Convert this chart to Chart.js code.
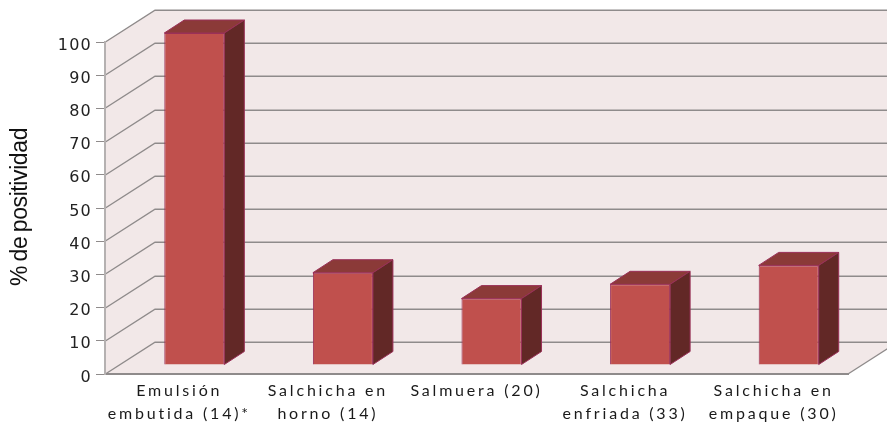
<!DOCTYPE html>
<html><head><meta charset="utf-8">
<style>html,body{margin:0;padding:0;background:#fff}canvas{display:block}</style>
<script src="https://cdn.jsdelivr.net/npm/chart.js@4"></script>
</head><body>
<canvas id="c" width="887" height="424"></canvas>
<script>
const categories = [["Emulsión","embutida (14)*"],["Salchicha en","horno (14)"],["Salmuera (20)"],["Salchicha","enfriada (33)"],["Salchicha en","empaque (30)"]];
const positivity = [100, 27.8, 20, 24.3, 30];
const yMin = 0, yMax = 100, yStep = 10;
const axisTitle = "% de positividad";

const WALL = {dx:50, dy:-32}, BAR = {dx:15, dy:-9}, DEPTH = {dx:20, dy:-13};
const GRID = '#8f8b8b', WALLFILL = '#f2e8e8';
const BAR_FRONT = '#c0504d', BAR_TOP = '#8b3a38', BAR_SIDE = '#622826', BAR_EDGE = '#9a3058';

function poly(ctx, pts, fill, stroke){
  ctx.beginPath();
  pts.forEach((p,i)=> i ? ctx.lineTo(p[0],p[1]) : ctx.moveTo(p[0],p[1]));
  ctx.closePath();
  ctx.fillStyle = fill; ctx.fill();
  if(stroke){ctx.strokeStyle = stroke; ctx.lineWidth = 1; ctx.stroke();}
}
function spaced(scale, method, spacing, shiftY, wordSpacing){
  if(scale['_w_'+method]) return;
  scale['_w_'+method] = true;
  const orig = scale[method];
  scale[method] = function(a){
    const ctx = this.ctx; ctx.save();
    ctx.letterSpacing = spacing+'px';
    if(wordSpacing) ctx.wordSpacing = wordSpacing+'px';
    ctx.translate(0, shiftY||0);
    orig.call(this,a);
    ctx.restore();
  };
}
const scene = {
  id:'scene',
  beforeDraw(chart){
    const {ctx, chartArea:a, scales:{y}} = chart;
    spaced(y,'drawLabels',1.2,3.5);
    spaced(y,'drawTitle',-0.4,-1,-1.5);
    spaced(chart.scales.x,'drawLabels',2.8);
    ctx.save();
    poly(ctx,[[a.left,a.top],[a.left+WALL.dx,a.top+WALL.dy],[a.right+WALL.dx,a.top+WALL.dy],
              [a.right+WALL.dx,a.bottom+WALL.dy],[a.right,a.bottom],[a.left,a.bottom]],WALLFILL);
    ctx.strokeStyle = GRID; ctx.lineWidth = 1.4;
    y.ticks.forEach(t=>{
      const py = Math.round(y.getPixelForValue(t.value))+0.25;
      ctx.beginPath();
      ctx.moveTo(a.left,py);
      ctx.lineTo(a.left+WALL.dx,py+WALL.dy);
      ctx.lineTo(a.right+WALL.dx,py+WALL.dy);
      ctx.stroke();
    });
    ctx.beginPath();
    ctx.moveTo(a.right,a.bottom);
    ctx.lineTo(a.right+WALL.dx,a.bottom+WALL.dy);
    ctx.stroke();
    ctx.restore();
  },
  beforeDatasetDraw(chart){
    const ctx = chart.ctx;
    ctx.save();
    ctx.translate(BAR.dx,BAR.dy);
    chart.getDatasetMeta(0).data.forEach(b=>{
      const l=b.x-b.width/2, r=b.x+b.width/2, t=b.y, bt=b.base;
      poly(ctx,[[l,t],[l+DEPTH.dx,t+DEPTH.dy],[r+DEPTH.dx,t+DEPTH.dy],[r,t]],BAR_TOP,BAR_EDGE);
      poly(ctx,[[r,t],[r+DEPTH.dx,t+DEPTH.dy],[r+DEPTH.dx,bt+DEPTH.dy],[r,bt]],BAR_SIDE,BAR_EDGE);
    });
  },
  afterDatasetDraw(chart){ chart.ctx.restore(); }
};

new Chart(document.getElementById('c'),{
  type:'bar',
  data:{labels:categories,datasets:[{
    data:positivity,backgroundColor:BAR_FRONT,borderColor:BAR_EDGE,borderWidth:1,
    barPercentage:1,categoryPercentage:0.404,clip:false
  }]},
  plugins:[scene],
  options:{
    responsive:false,animation:false,
    layout:{padding:{top:42,right:39,left:0,bottom:0}},
    plugins:{legend:{display:false},tooltip:{enabled:false},title:{display:false}},
    scales:{
      x:{
        grid:{display:false,drawTicks:false},
        border:{display:true,color:GRID,width:2},
        afterFit(s){s.height=50;},
        ticks:{autoSkip:false,maxRotation:0,minRotation:0,padding:5,color:'#1a1a1a',
          font:{family:'Lato',size:16,lineHeight:1.44}}
      },
      y:{
        min:yMin,max:yMax,
        grid:{drawOnChartArea:false,drawTicks:true,tickLength:9,tickColor:GRID,color:GRID},
        border:{display:true,color:'#b5b1b1',width:2},
        afterFit(s){s.width=105;},
        title:{display:true,text:axisTitle,color:'#111',padding:{top:7,bottom:0},
          font:{family:'"Liberation Sans"',size:23}},
        ticks:{stepSize:yStep,padding:4,color:'#222',
          font:{family:'"DejaVu Sans"',size:16}}
      }
    }
  }
});
</script>
</body></html>
